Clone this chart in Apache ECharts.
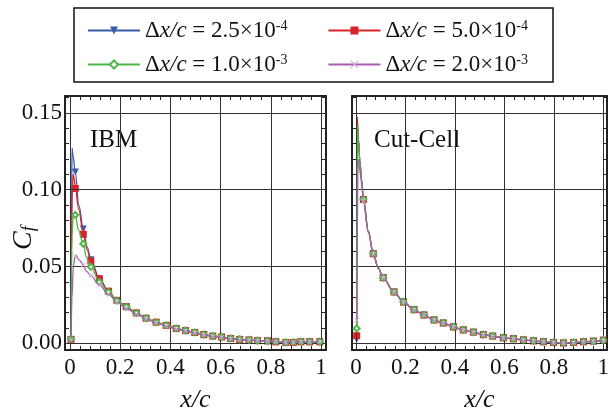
<!DOCTYPE html>
<html>
<head>
<meta charset="utf-8">
<script src="https://cdn.jsdelivr.net/npm/echarts@6/dist/echarts.min.js"></script>
<style>html,body{margin:0;padding:0;background:#fff}#c{width:615px;height:418px}</style>
</head>
<body>
<div id="c"></div>
<script>
// ---------- tick labels ----------
const yTickLabels = [0, 0.05, 0.10, 0.15];
const xTickLabels = [0, 0.2, 0.4, 0.6, 0.8, 1];

// ---------- series names ----------
const seriesNames = ['dx25', 'dx50', 'dx100', 'dx200'];
const legendText = {
  dx25: '{d|Δ}{i|x/c}{n| = 2.5×10}{s|-4}',
  dx50: '{d|Δ}{i|x/c}{n| = 5.0×10}{s|-4}',
  dx100: '{d|Δ}{i|x/c}{n| = 1.0×10}{s|-3}',
  dx200: '{d|Δ}{i|x/c}{n| = 2.0×10}{s|-3}'
};

// ---------- IBM panel: marker positions & values ----------
const ibmMarkX = [0.004, 0.021, 0.053, 0.083, 0.117, 0.153, 0.187, 0.224, 0.264, 0.303, 0.343, 0.383, 0.423, 0.460, 0.497, 0.533, 0.569, 0.604, 0.640, 0.676, 0.713, 0.747, 0.787, 0.820, 0.860, 0.890, 0.920, 0.955, 0.995];
const ibmBlueY   = [0.0026, 0.1115, 0.0745, 0.0545, 0.0420, 0.0338, 0.0279, 0.0237, 0.0196, 0.0162, 0.0136, 0.0115, 0.0095, 0.0081, 0.0069, 0.0056, 0.0046, 0.0040, 0.0031, 0.0025, 0.0021, 0.0017, 0.0015, 0.0010, 0.0006, 0.0006, 0.0010, 0.0010, 0.0010];
const ibmRedY    = [0.0026, 0.1008, 0.0710, 0.0536, 0.0420, 0.0340, 0.0280, 0.0239, 0.0198, 0.0164, 0.0138, 0.0117, 0.0097, 0.0083, 0.0071, 0.0057, 0.0047, 0.0041, 0.0032, 0.0026, 0.0022, 0.0018, 0.0016, 0.0010, 0.0006, 0.0006, 0.0010, 0.0010, 0.0010];
const ibmGreenY  = [0.0030, 0.0836, 0.0648, 0.0498, 0.0400, 0.0334, 0.0278, 0.0238, 0.0198, 0.0164, 0.0138, 0.0117, 0.0098, 0.0084, 0.0072, 0.0058, 0.0048, 0.0042, 0.0033, 0.0027, 0.0023, 0.0019, 0.0016, 0.0011, 0.0007, 0.0007, 0.0011, 0.0011, 0.0011];
const ibmPurpleY = [0.0020, 0.0568, 0.0512, 0.0441, 0.0380, 0.0320, 0.0269, 0.0229, 0.0193, 0.0160, 0.0135, 0.0114, 0.0095, 0.0081, 0.0069, 0.0056, 0.0046, 0.0040, 0.0031, 0.0025, 0.0021, 0.0017, 0.0015, 0.0010, 0.0006, 0.0006, 0.0010, 0.0010, 0.0010];
// extra (unmarked) points of each IBM line near the leading edge
const ibmBlueExtra   = [[0.006, 0.080], [0.008, 0.127], [0.012, 0.122], [0.035, 0.090], [0.068, 0.063]];
const ibmRedExtra    = [[0.006, 0.060], [0.009, 0.100], [0.013, 0.110], [0.017, 0.107], [0.035, 0.087], [0.068, 0.061]];
const ibmGreenExtra  = [[0.008, 0.070], [0.013, 0.0845], [0.033, 0.074], [0.065, 0.056]];
const ibmPurpleExtra = [[0.008, 0.030], [0.013, 0.050], [0.024, 0.0573], [0.035, 0.0545], [0.065, 0.047]];

// ---------- Cut-Cell panel ----------
const ccMarkX = [0.003, 0.030, 0.070, 0.110, 0.154, 0.192, 0.235, 0.275, 0.316, 0.353, 0.394, 0.434, 0.475, 0.515, 0.553, 0.596, 0.637, 0.677, 0.718, 0.758, 0.799, 0.839, 0.880, 0.920, 0.960, 1.000];
const ccBlueY   = [0.0026, 0.0937, 0.0583, 0.0427, 0.0334, 0.0269, 0.0219, 0.0184, 0.0152, 0.0132, 0.0107, 0.0087, 0.0073, 0.0057, 0.0047, 0.0036, 0.0030, 0.0022, 0.0016, 0.0010, 0.0006, 0.0002, 0.0006, 0.0010, 0.0014, 0.0020];
const ccRedY    = [0.0050, 0.0937, 0.0583, 0.0427, 0.0334, 0.0269, 0.0219, 0.0184, 0.0152, 0.0132, 0.0107, 0.0087, 0.0073, 0.0057, 0.0047, 0.0036, 0.0030, 0.0022, 0.0016, 0.0010, 0.0006, 0.0002, 0.0006, 0.0010, 0.0014, 0.0020];
const ccGreenY  = [0.0097, 0.0940, 0.0585, 0.0428, 0.0335, 0.0270, 0.0220, 0.0185, 0.0153, 0.0133, 0.0108, 0.0088, 0.0074, 0.0058, 0.0048, 0.0037, 0.0031, 0.0023, 0.0017, 0.0011, 0.0007, 0.0003, 0.0007, 0.0011, 0.0015, 0.0021];
const ccPurpleY = [0.0150, 0.0925, 0.0580, 0.0425, 0.0333, 0.0268, 0.0218, 0.0183, 0.0151, 0.0131, 0.0106, 0.0086, 0.0072, 0.0056, 0.0046, 0.0035, 0.0029, 0.0021, 0.0015, 0.0009, 0.0005, 0.0002, 0.0005, 0.0009, 0.0013, 0.0019];
const ccBlueExtra   = [[0.004, 0.147], [0.010, 0.132], [0.016, 0.118], [0.023, 0.106], [0.050, 0.073], [0.090, 0.049]];
const ccRedExtra    = [[0.005, 0.1474], [0.010, 0.133], [0.016, 0.119], [0.023, 0.106], [0.050, 0.073], [0.090, 0.049]];
const ccGreenExtra  = [[0.006, 0.142], [0.010, 0.131], [0.016, 0.118], [0.023, 0.106], [0.050, 0.073], [0.090, 0.049]];
const ccPurpleExtra = [[0.009, 0.120], [0.013, 0.116], [0.018, 0.110], [0.023, 0.104], [0.050, 0.072], [0.090, 0.049]];

// ---------- styles ----------
const colors = { dx25: '#3a5ca8', dx50: '#d8232a', dx100: '#4cb848', dx200: '#a85eb0' };
const symbols = {
  dx25: { symbol: 'triangle', symbolRotate: 180, symbolSize: 7 },
  dx50: { symbol: 'rect', symbolRotate: 0, symbolSize: 7 },
  dx100: { symbol: 'emptyDiamond', symbolRotate: 0, symbolSize: 6 },
  dx200: { symbol: 'path://M0,1L1,0L5,4L9,0L10,1L6,5L10,9L9,10L5,6L1,10L0,9L4,5Z', symbolRotate: 0, symbolSize: 5 }
};
const markColors = { dx25: '#3a5ca8', dx50: '#d8232a', dx100: '#4cb848', dx200: '#d7a6dc' };
const FONT = '"Liberation Serif", "Times New Roman", serif';

function buildData(markX, ys, extra) {
  const pts = markX.map((x, i) => ({ value: [x, ys[i]] }));
  extra.forEach(p => pts.push({ value: [p[0], p[1]], symbol: 'none' }));
  pts.sort((a, b) => a.value[0] - b.value[0]);
  return pts;
}

function range(a, b, step) {
  const out = [];
  for (let i = 0; a + i * step <= b + 1e-9; i++) out.push(Math.round((a + i * step) * 1000) / 1000);
  return out;
}
const yMinor = range(0, 0.16, 0.01);
const xMinor = range(0, 1, 0.04);

const GRIDS = [
  { left: 65, top: 96, width: 261, height: 272, xmin: -0.02, xmax: 1.02 },
  { left: 352, top: 96, width: 255, height: 272, xmin: -0.016, xmax: 1.015 }
];
const YMIN = -0.0043, YMAX = 0.1610;

const frameLine = { show: true, onZero: false, lineStyle: { color: '#222', width: 2 } };

const xAxes = [], yAxes = [];
GRIDS.forEach((g, gi) => {
  ['bottom', 'top'].forEach(pos => {
    xAxes.push({
      type: 'value', gridIndex: gi, position: pos, min: g.xmin, max: g.xmax,
      axisLine: frameLine,
      axisTick: { show: true, inside: true, length: 4, customValues: xMinor, lineStyle: { color: '#222', width: 1 } },
      axisLabel: pos === 'bottom' ? {
        show: true, customValues: xTickLabels, margin: 6,
        fontFamily: FONT, fontSize: 23, color: '#111',
        formatter: v => (v === 0 ? '0' : (v === 1 ? '1' : v.toFixed(1)))
      } : { show: false },
      splitLine: { show: false },
      name: pos === 'bottom' ? '{i|x/c}' : '',
      nameLocation: 'middle', nameGap: 37,
      nameTextStyle: { rich: { i: { fontFamily: FONT, fontStyle: 'italic', fontSize: 26, color: '#111' } } }
    });
  });
  ['left', 'right'].forEach(pos => {
    yAxes.push({
      type: 'value', gridIndex: gi, position: pos, min: YMIN, max: YMAX,
      axisLine: frameLine,
      axisTick: { show: true, inside: true, length: 4, customValues: yMinor, lineStyle: { color: '#222', width: 1 } },
      axisLabel: (pos === 'left' && gi === 0) ? {
        show: true, customValues: yTickLabels, margin: 3,
        fontFamily: FONT, fontSize: 23, color: '#111',
        formatter: v => v.toFixed(2)
      } : { show: false },
      splitLine: { show: false }
    });
  });
});

const series = [];
// gridline series
GRIDS.forEach((g, gi) => {
  series.push({
    type: 'line', xAxisIndex: gi * 2, yAxisIndex: gi * 2, data: [], z: 1, silent: true,
    markLine: {
      silent: true, symbol: ['none', 'none'], label: { show: false }, animation: false,
      lineStyle: { color: '#333', width: 1, type: 'solid' },
      emphasis: { disabled: true },
      data: xTickLabels.map(v => ({ xAxis: v })).concat(yTickLabels.map(v => ({ yAxis: v })))
    }
  });
});

const panels = [
  { gi: 0, data: {
      dx25: buildData(ibmMarkX, ibmBlueY, ibmBlueExtra),
      dx50: buildData(ibmMarkX, ibmRedY, ibmRedExtra),
      dx100: buildData(ibmMarkX, ibmGreenY, ibmGreenExtra),
      dx200: buildData(ibmMarkX, ibmPurpleY, ibmPurpleExtra) } },
  { gi: 1, data: {
      dx25: buildData(ccMarkX, ccBlueY, ccBlueExtra),
      dx50: buildData(ccMarkX, ccRedY, ccRedExtra),
      dx100: buildData(ccMarkX, ccGreenY, ccGreenExtra),
      dx200: buildData(ccMarkX, ccPurpleY, ccPurpleExtra) } }
];
const zOrder = { dx25: 3, dx50: 4, dx100: 5, dx200: 6 };
panels.forEach(p => {
  seriesNames.forEach(n => {
    series.push({
      name: n, type: 'line', xAxisIndex: p.gi * 2, yAxisIndex: p.gi * 2, z: zOrder[n],
      data: p.data[n], smooth: 0.35, smoothMonotone: 'x',
      symbol: symbols[n].symbol, symbolRotate: symbols[n].symbolRotate, symbolSize: symbols[n].symbolSize,
      showSymbol: true, showAllSymbol: true,
      lineStyle: { color: colors[n], width: 1.3 },
      itemStyle: { color: markColors[n], borderColor: markColors[n], borderWidth: n === 'dx100' ? 1.3 : 0 },
      emphasis: { disabled: true },
      animation: false
    });
  });
});

const legendCommon = {
  orient: 'horizontal', left: 87, itemWidth: 52, itemHeight: 10, itemGap: 40, padding: 0,
  selectedMode: false,
  formatter: name => legendText[name],
  textStyle: {
    rich: {
      d: { fontFamily: FONT, fontSize: 23, color: '#111' },
      i: { fontFamily: FONT, fontStyle: 'italic', fontSize: 23, color: '#111' },
      n: { fontFamily: FONT, fontSize: 23, color: '#111' },
      s: { fontFamily: FONT, fontSize: 14, color: '#111', verticalAlign: 'top', lineHeight: 14 }
    }
  }
};

const option = {
  backgroundColor: '#fff',
  animation: false,
  grid: GRIDS.map(g => ({ left: g.left, top: g.top, width: g.width, height: g.height, containLabel: false })),
  xAxis: xAxes,
  yAxis: yAxes,
  legend: [
    Object.assign({}, legendCommon, { top: 19, data: ['dx25', 'dx50'] }),
    Object.assign({}, legendCommon, { top: 53, data: ['dx100', 'dx200'] })
  ],
  graphic: [
    { type: 'rect', shape: { x: 74, y: 8, width: 479, height: 74 }, style: { fill: 'none', stroke: '#111', lineWidth: 1.5 }, silent: true },
    { type: 'text', x: 90, y: 128, style: { text: 'IBM', fontFamily: FONT, fontSize: 25, fill: '#111' }, silent: true },
    { type: 'text', x: 374, y: 128, style: { text: 'Cut-Cell', fontFamily: FONT, fontSize: 25, fill: '#111' }, silent: true },
    { type: 'text', x: 10, y: 250, rotation: Math.PI / 2, silent: true,
      style: { text: '{c|C}{f|f}', rich: {
        c: { fontFamily: FONT, fontStyle: 'italic', fontSize: 28, fill: '#111', lineHeight: 28 },
        f: { fontFamily: FONT, fontStyle: 'italic', fontSize: 18, fill: '#111', verticalAlign: 'bottom', lineHeight: 18, padding: [10, 0, 0, 0] }
      } } }
  ],
  series: series
};

const chart = echarts.init(document.getElementById('c'), null, { renderer: 'canvas' });
chart.setOption(option);
</script>
</body>
</html>
